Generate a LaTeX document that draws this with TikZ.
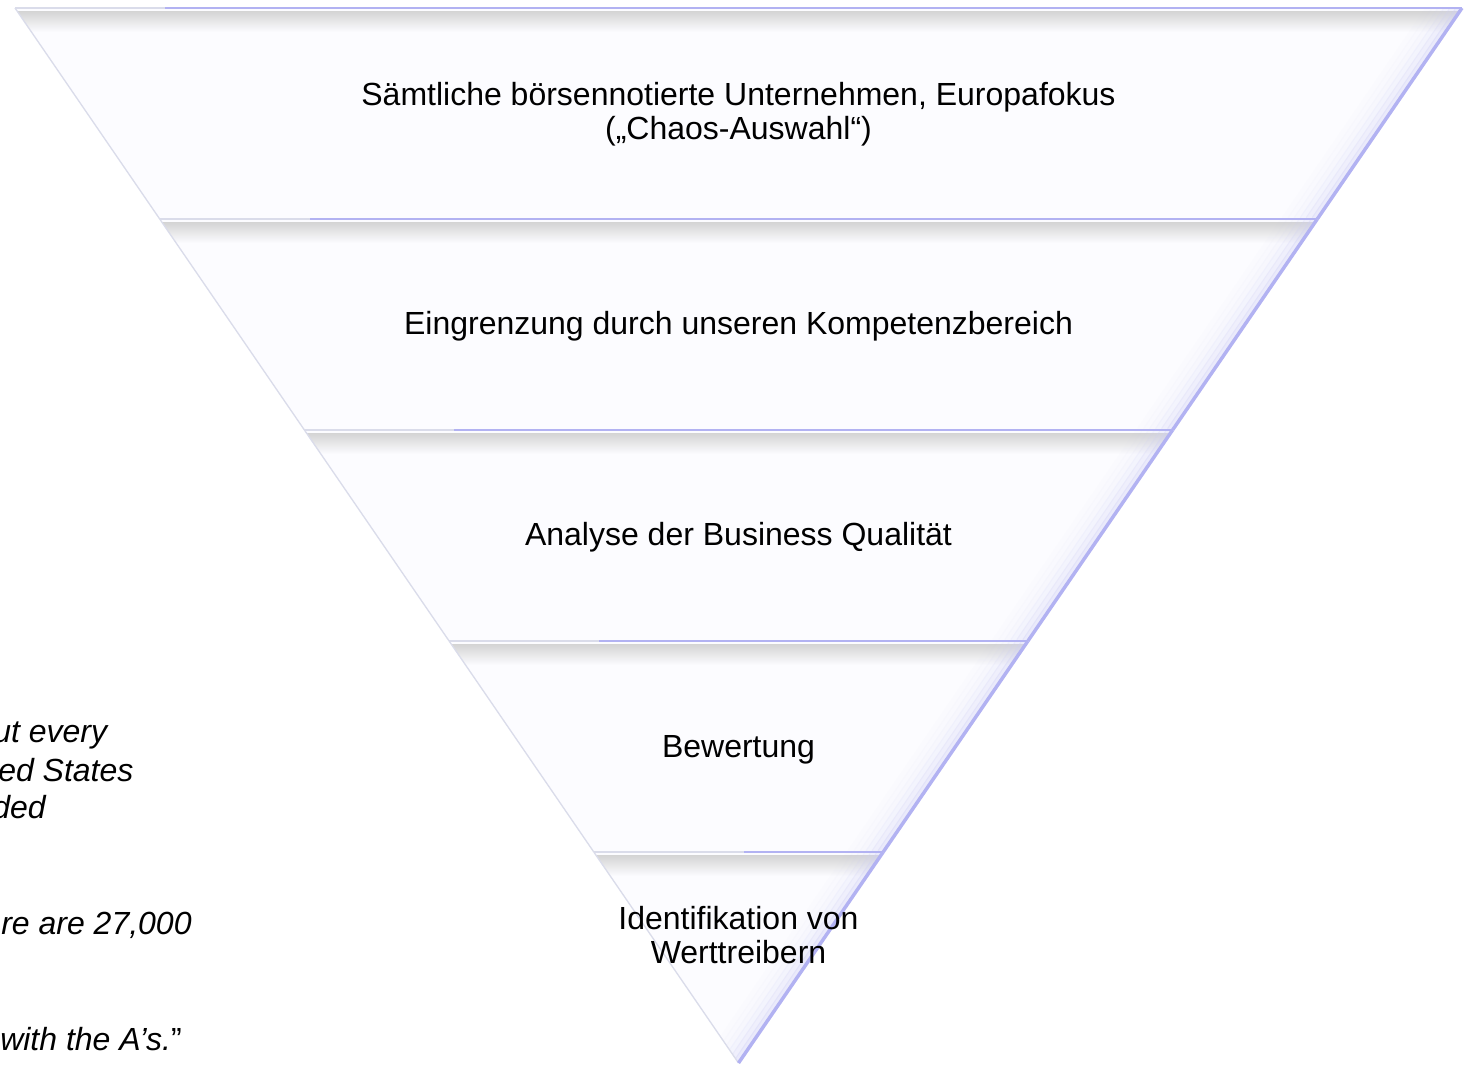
\documentclass[tikz,border=0pt]{standalone}
\usepackage{fontspec}
\setmainfont{Liberation Sans}

\definecolor{bandFill}{RGB}{252,252,255}
\definecolor{rimBlue}{RGB}{178,178,242}
\definecolor{rimGrey}{RGB}{218,220,234}

\begin{document}
\begin{tikzpicture}[x=0.75pt,y=0.75pt,yscale=-1,xscale=1,
  stagetext/.style={inner sep=0.75pt, align=center, font=\fontsize{24}{25.5}\selectfont},
  quotetext/.style={anchor=west, inner sep=0pt, font=\fontsize{24}{28}\selectfont\itshape}]
	\useasboundingbox (0,0) rectangle (1464,1065);

	%Shape: Funnel bands
	\foreach \k in {0,...,4}{
	  \pgfmathsetmacro{\ya}{8+211*\k}
	  \pgfmathsetmacro{\yb}{\ya+211}
	  \pgfmathsetmacro{\wa}{0.68578*(1063-\ya)}
	  \pgfmathsetmacro{\wb}{0.68578*(1063-\yb)}
	  \begin{scope}
	    \path[clip] (738.5-\wa,\ya) -- (738.5+\wa,\ya) -- (738.5+\wb,\yb) -- (738.5-\wb,\yb) -- cycle ;
	    \fill[bandFill] (0,\ya) rectangle (1464,\yb) ;
	    \shade[top color=black!17, bottom color=bandFill] (0,\ya+3) rectangle (1464,\ya+24) ;
	    \foreach \d/\o in {3/0.4,9/0.28,15/0.18,21/0.1,27/0.05,33/0.03}{
	      \draw[rimGrey!80!blue!60, line width=4.5, opacity=\o] (738.5+\wa-\d,\ya) -- (738.5+\wb-\d,\yb) ;
	    }
	  \end{scope}
	  %Straight Lines
	  \draw[rimGrey, line width=1] (738.5-\wa,\ya) -- (738.5-\wb,\yb) ;
	  \draw[rimBlue, line width=2.6] (738.5+\wa,\ya) -- (738.5+\wb,\yb) ;
	  \draw[rimBlue, line width=2.2] (738.5-\wa+150,\ya) -- (738.5+\wa,\ya) ;
	  \draw[rimGrey, line width=2.2] (738.5-\wa,\ya) -- (738.5-\wa+150,\ya) ;
	}

	% Text Node
	\node[stagetext] (stageA) at (738.5,114) {Sämtliche börsennotierte Unternehmen, Europafokus\\(„Chaos-Auswahl“)};
	% Text Node
	\node[stagetext] (stageB) at (738.5,326) {Eingrenzung durch unseren Kompetenzbereich};
	% Text Node
	\node[stagetext] (stageC) at (738.5,537) {Analyse der Business Qualität};
	% Text Node
	\node[stagetext] (stageD) at (738.5,750) {Bewertung};
	% Text Node
	\node[stagetext] (stageE) at (738.5,935) {Identifikation von\\Werttreibern};

	% Text Node
	\node[quotetext] (quoteA) at (-7,735) {ut every};
	% Text Node
	\node[quotetext] (quoteB) at (-2,770) {ed States};
	% Text Node
	\node[quotetext] (quoteC) at (-8,807) {ded};
	% Text Node
	\node[quotetext] (quoteD) at (1,925) {re are 27,000};
	% Text Node
	\node[quotetext] (quoteE) at (0,1039) {with the A’s.\upshape”};
\end{tikzpicture}
\end{document}
